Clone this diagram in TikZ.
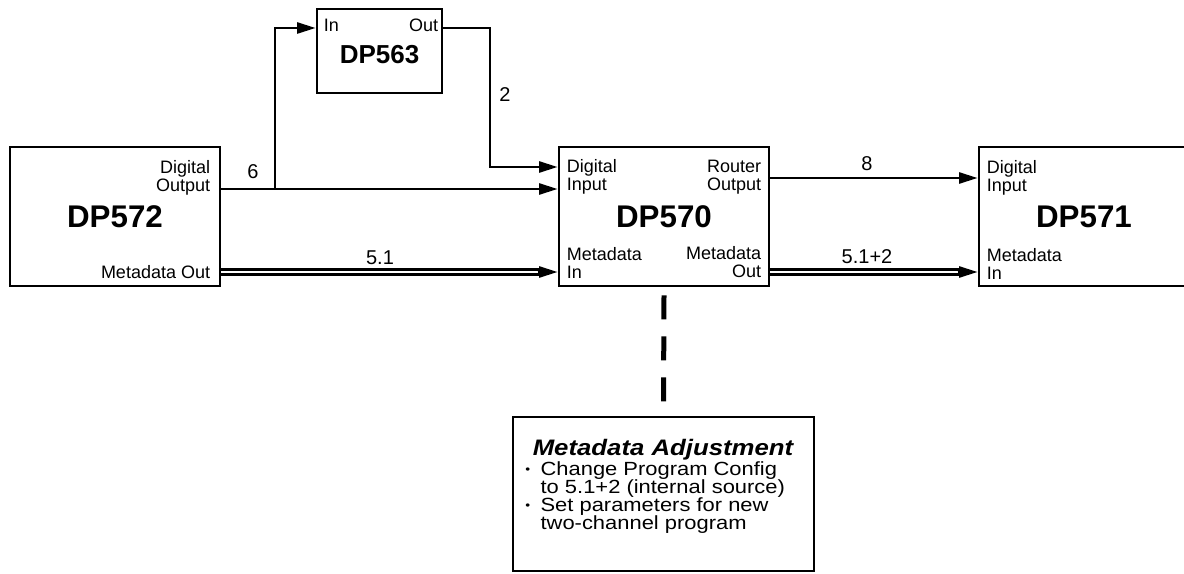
\documentclass[tikz,border=0pt]{standalone}
\usepackage{fontspec}
\setmainfont{Liberation Sans}
\newfontfamily\widesans[FakeStretch=1.15]{Liberation Sans}
\usetikzlibrary{positioning,arrows.meta,calc}

\newcommand{\notebullet}{\makebox[11.5pt][l]{\raisebox{1pt}{\fontsize{9}{9}\selectfont\textbullet}}}
\newcommand{\tightlines}{\lineskiplimit=-20pt\relax}

\begin{document}
\begin{tikzpicture}[
  x=0.75pt, y=-0.75pt,
  unit/.style={draw, line width=2pt, minimum width=157.5pt, minimum height=104.25pt, inner sep=0pt},
  unittitle/.style={font=\fontsize{23.5}{24}\selectfont\bfseries, inner sep=0pt},
  port/.style={font=\fontsize{13.5}{13.5}\selectfont, inner sep=0pt},
  num/.style={font=\fontsize{15}{15}\selectfont, inner sep=0pt},
  arr/.style={-{Triangle[length=14pt,width=8.25pt]}, line width=2pt},
  dbl/.style={line width=2pt, double=white, double distance=1.75pt},
  metalink/.style={line width=3.75pt, dash pattern=on 18pt off 12.75pt}
]
\useasboundingbox (0,0) rectangle (1184,574);

% units
\node[unit] (b572) at (115,216.5) {};
\node[unit, minimum width=93.75pt, minimum height=63pt] (b563) at (379.5,51) {};
\node[unit] (b570) at (664,216.5) {};
\node[unit] (b571) at (1084,216.5) {};
\node[unit, minimum width=225.75pt, minimum height=115.5pt] (madj) at (663.5,494) {};

\node[unittitle] (t572) at (b572.center) {DP572};
\node[unittitle, font=\fontsize{19.5}{20}\selectfont\bfseries] (t563) at ([yshift=-3pt]b563.center) {DP563};
\node[unittitle] (t570) at (b570.center) {DP570};
\node[unittitle] (t571) at (b571.center) {DP571};

% ports
\node[port, align=right, anchor=north east] (o572) at ([shift={(-11,15)}]b572.north east) {Digital\\Output};
\node[port, anchor=base east] (m572) at ([shift={(-11,-9)}]b572.south east) {Metadata Out};
\node[port, anchor=base west] (i563) at ([shift={(8,24)}]b563.north west) {In};
\node[port, anchor=base east] (o563) at ([shift={(-5,24)}]b563.north east) {Out};
\node[port, align=left, anchor=north west] (i570) at ([shift={(9,14)}]b570.north west) {Digital\\Input};
\node[port, align=right, anchor=north east] (r570) at ([shift={(-9,14)}]b570.north east) {Router\\Output};
\node[port, align=left, anchor=south west] (mi570) at ([shift={(9,-9)}]b570.south west) {Metadata\\In};
\node[port, align=right, anchor=south east] (mo570) at ([shift={(-9,-9)}]b570.south east) {Metadata\\Out};
\node[port, align=left, anchor=north west] (i571) at ([shift={(9,15)}]b571.north west) {Digital\\Input};
\node[port, align=left, anchor=south west] (mi571) at ([shift={(9,-8)}]b571.south west) {Metadata\\In};

% adjustment note
\node[font=\widesans\fontsize{16.8}{16.8}\selectfont\bfseries\itshape, inner sep=0pt, anchor=base] (madjt) at (663,455) {Metadata Adjustment};
\node[font=\widesans\fontsize{14.3}{13.5}\selectfont\tightlines, align=left, inner sep=0pt, anchor=north west] (madjl) at (525,461) {%
  \notebullet Change Program Config\\
  \hspace*{11.5pt}to 5.1+2 (internal source)\\
  \notebullet Set parameters for new\\
  \hspace*{11.5pt}two-channel program};

% routing
\coordinate (j6) at (275,189);
\coordinate (k2) at (490,167);
\coordinate (in563) at (0,28);
\coordinate (rt) at (0,178);
\coordinate (md) at (0,272);

\draw[arr] (j6 -| b572.east) -- (j6 -| b570.west);
\draw[arr] (j6) |- (in563 -| b563.west);
\draw[arr] (in563 -| b563.east) -| (k2) -- (k2 -| b570.west);
\draw[arr] (rt -| b570.east) -- (rt -| b571.west);
\draw[dbl, shorten >=13pt] (md -| b572.east) -- (md -| b570.west);
\draw[arr] ($(md -| b570.west)+(-20,0)$) -- (md -| b570.west);
\draw[dbl, shorten >=13pt] (md -| b570.east) -- (md -| b571.west);
\draw[arr] ($(md -| b571.west)+(-20,0)$) -- (md -| b571.west);
\draw[metalink] ($(b570.south)+(0,8)$) -- ($(madj.north)+(0,-13)$);

\node[num] (n6) at (253,172) {6};
\node[num] (n2) at (505,95) {2};
\node[num] (n51) at (380,258) {5.1};
\node[num] (n8) at (867,164) {8};
\node[num] (n512) at (867,257) {5.1+2};
\end{tikzpicture}
\end{document}
